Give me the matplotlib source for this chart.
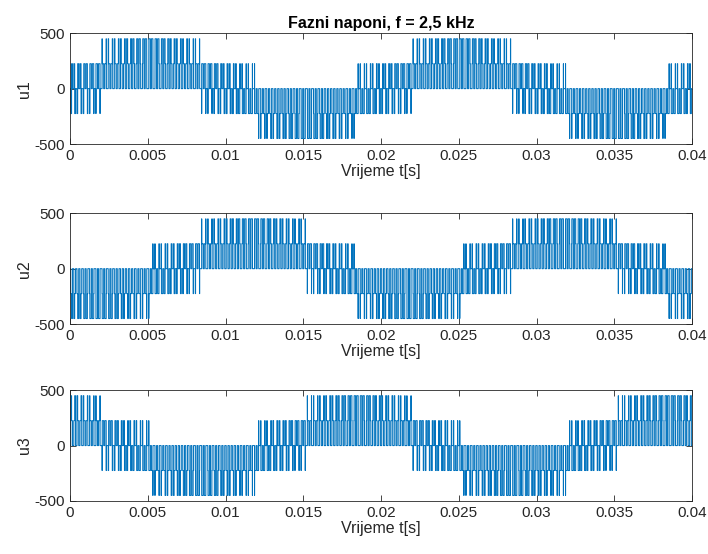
import numpy as np
import matplotlib.pyplot as plt

# DC-link voltage and carrier period (f = 2.5 kHz)
Vdc = 675
T_carrier = 0.0004
n_cycles = 2  # two 50 Hz periods shown

# leg duty cycles for each carrier period of one fundamental period
duty_1 = [.500, .541, .581, .620, .657, .691, .722, .750, .774, .794,
          .809, .819, .824, .824, .819, .809, .794, .774, .750, .722,
          .691, .657, .620, .581, .541, .500, .459, .419, .380, .343,
          .309, .278, .250, .226, .206, .191, .181, .176, .176, .181,
          .191, .206, .226, .250, .278, .309, .343, .380, .419, .459]
duty_2 = [.219, .200, .187, .179, .175, .177, .184, .195, .212, .233,
          .258, .288, .320, .355, .393, .432, .473, .514, .554, .594,
          .632, .668, .702, .732, .759, .781, .800, .813, .821, .825,
          .823, .816, .805, .788, .767, .742, .712, .680, .645, .607,
          .568, .527, .486, .446, .406, .368, .332, .298, .268, .241]
duty_3 = [.781, .759, .732, .702, .668, .632, .594, .554, .514, .473,
          .432, .393, .355, .320, .288, .258, .233, .212, .195, .184,
          .177, .175, .179, .187, .200, .219, .241, .268, .298, .332,
          .368, .406, .446, .486, .527, .568, .607, .645, .680, .712,
          .742, .767, .788, .805, .816, .823, .825, .821, .813, .800]

xticks = [0, 0.005, 0.01, 0.015, 0.02, 0.025, 0.03, 0.035, 0.04]
xticklabels = ['0', '0.005', '0.01', '0.015', '0.02', '0.025', '0.03', '0.035', '0.04']
yticks = [-500, 0, 500]
yticklabels = ['-500', '0', '500']
ylabels = ['u1', 'u2', 'u3']

duties = np.array([np.tile(duty_1, n_cycles), np.tile(duty_2, n_cycles), np.tile(duty_3, n_cycles)])

# switching instants (centre-aligned pulses) and resulting phase voltages
t_all = []
u_all = [[], [], []]
for k in range(duties.shape[1]):
    t0 = k * T_carrier
    ton = t0 + (1 - duties[:, k]) / 2 * T_carrier
    toff = t0 + (1 + duties[:, k]) / 2 * T_carrier
    edges = np.unique(np.concatenate([[t0], ton, toff]))
    for a in edges:
        mid = a + 1e-9
        s = ((ton <= mid) & (mid < toff)).astype(float)
        t_all.append(a)
        for i in range(3):
            u_all[i].append(Vdc / 3 * (3 * s[i] - s.sum()))
t_all.append(duties.shape[1] * T_carrier)
for i in range(3):
    u_all[i].append(u_all[i][-1])

plt.rcParams['font.family'] = ['Liberation Sans', 'DejaVu Sans']
plt.rcParams['axes.unicode_minus'] = False
dark = '#262626'

fig = plt.figure(figsize=(7.08, 5.54), dpi=100)
bottoms = [0.740, 0.415, 0.0957]
for i in range(3):
    ax = fig.add_axes([0.0989, bottoms[i], 0.8785, 0.200])
    ax.step(t_all, u_all[i], where='post', color='#0072BD', linewidth=0.75)
    ax.set_xlim(0, 0.04)
    ax.set_ylim(-500, 500)
    ax.set_xticks(xticks)
    ax.set_xticklabels(xticklabels)
    ax.set_yticks(yticks)
    ax.set_yticklabels(yticklabels)
    ax.tick_params(direction='in', top=True, right=True, length=4,
                   labelsize=11, colors=dark, width=0.6)
    for sp in ax.spines.values():
        sp.set_color(dark)
        sp.set_linewidth(0.6)
    ax.set_xlabel('Vrijeme t[s]', fontsize=11.5, color=dark, labelpad=1)
    ax.set_ylabel(ylabels[i], fontsize=11.5, color=dark, labelpad=2)
    if i == 0:
        ax.set_title('Fazni naponi, f = 2,5 kHz', fontsize=11.5, fontweight='bold', pad=4)

fig.savefig('out.png', dpi=100)
